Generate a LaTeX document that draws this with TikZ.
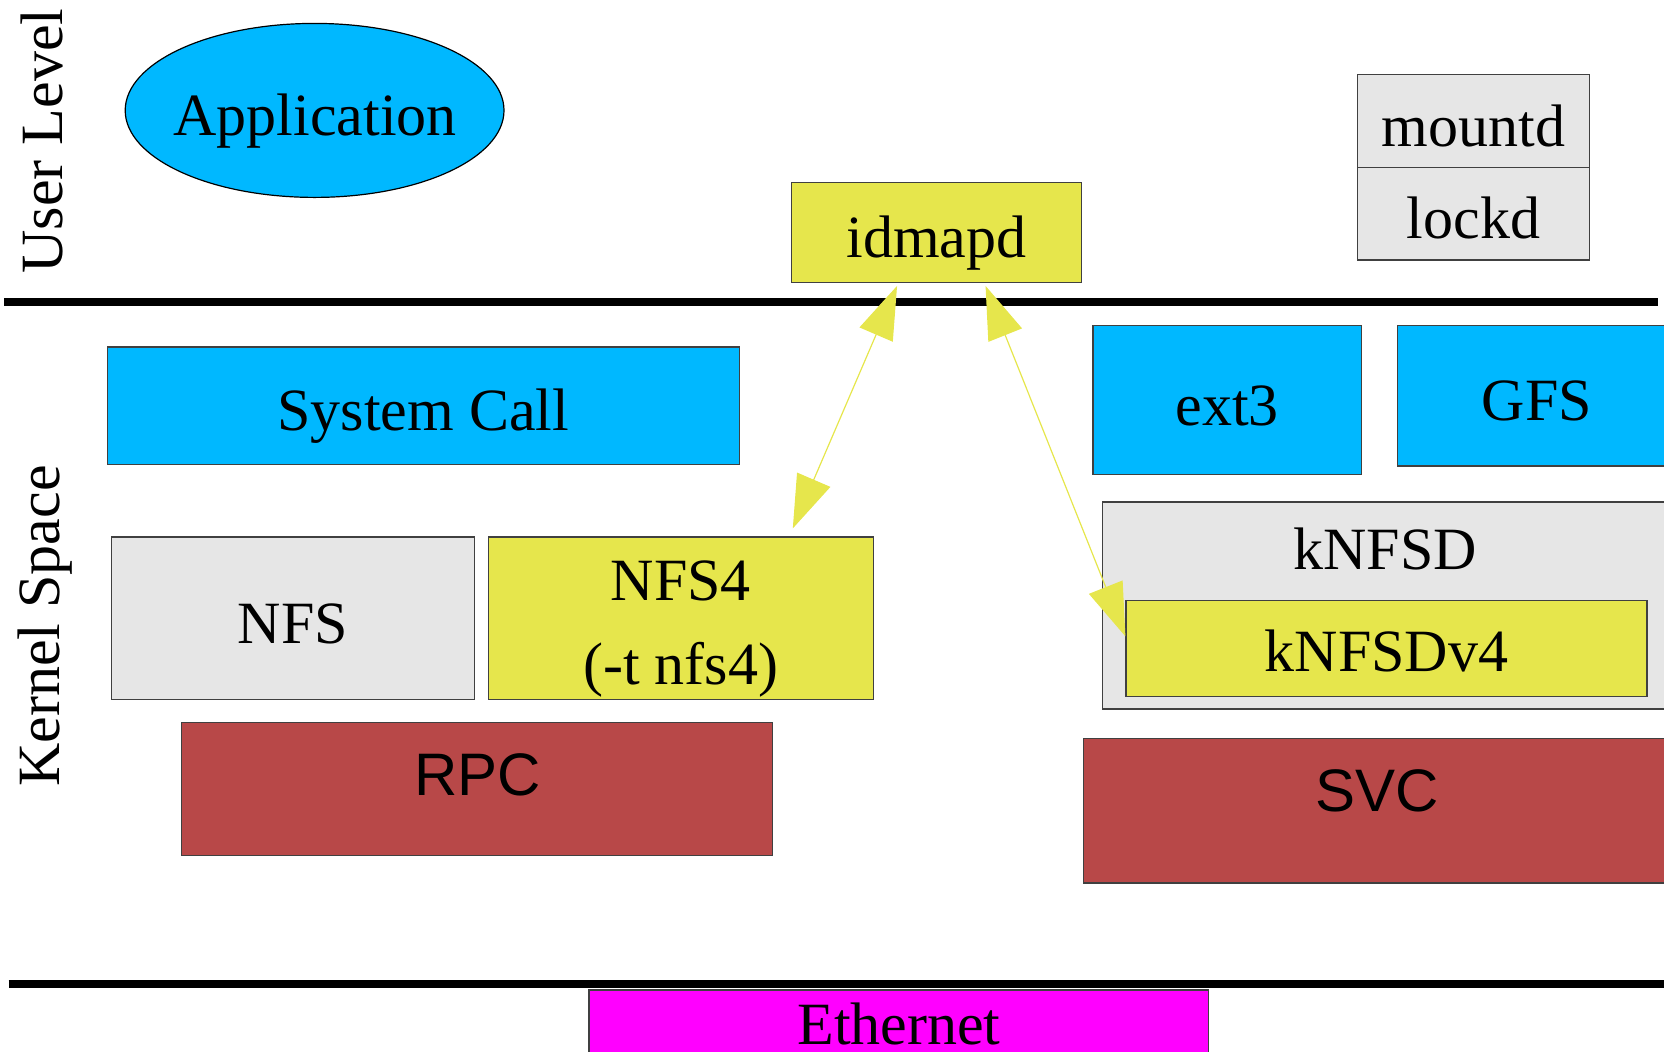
\documentclass[tikz,border=0pt]{standalone}
\usepackage{fontspec}
\setmainfont{Liberation Serif}
\newfontfamily\sansf{Liberation Sans}
\usetikzlibrary{arrows.meta,shapes.geometric}
\definecolor{cyanfill}{RGB}{0,184,255}
\definecolor{grayfill}{RGB}{230,230,230}
\definecolor{yellowfill}{RGB}{230,230,76}
\definecolor{redfill}{RGB}{184,72,72}
\definecolor{magfill}{RGB}{255,0,255}
\begin{document}
\begin{tikzpicture}[x=0.5pt,y=-0.5pt,
  font=\fontsize{30}{36}\selectfont,
  box/.style={rectangle, draw=black!75, line width=0.6pt, inner sep=0pt,
    text height=25pt, text depth=0pt},
  cyanbox/.style={box, fill=cyanfill},
  graybox/.style={box, fill=grayfill},
  yellowbox/.style={box, fill=yellowfill},
  redbox/.style={box, fill=redfill},
  magbox/.style={box, fill=magfill},
  sep/.style={line width=4pt, black},
  txt/.style={inner sep=0pt},
  sanstxt/.style={inner sep=0pt, font=\sansf\fontsize{30}{36}\selectfont},
  conn/.style={draw=yellowfill, line width=0.6pt,
    {Triangle[length=26.5pt,width=18pt]}-{Triangle[length=26.5pt,width=18pt]}}
]
\useasboundingbox (0,0) rectangle (1664,1051);

% separators
\draw[sep] (4,301.5) -- (1658,301.5);
\draw[sep] (8.5,983.7) -- (1664,983.7);

% side labels
\node[txt, rotate=90] (userlevel) at (42,141) {User Level};
\node[txt, rotate=90] (kernelspace) at (45.2,626) {Kernel Space};

% user level
\node[ellipse, draw=black, line width=0.6pt, fill=cyanfill, inner sep=0pt,
      minimum width=189.4pt, minimum height=87pt] (app) at (314.6,110.4) {};
\node[txt] (apptxt) at (315,121) {Application};
\node[yellowbox, minimum width=144.85pt, minimum height=49.9pt] (idmapd) at (936.55,232.4) {idmapd};
\node[graybox, minimum width=116.2pt, minimum height=46.7pt] (mountd) at (1473.5,121) {mountd};
\node[graybox, minimum width=116.2pt, minimum height=46.15pt] (lockd) at (1473.5,213.85) {lockd};

% kernel space, client side
\node[cyanbox, minimum width=316.25pt, minimum height=58.9pt] (syscall) at (423.45,405.9) {System Call};
\node[graybox, minimum width=181.5pt, minimum height=81.15pt] (nfs) at (292.9,618.15) {NFS};
\node[yellowbox, minimum width=192.6pt, minimum height=81.15pt] (nfs4) at (680.8,618.15) {};
\node[txt] (nfs4a) at (680.8,581) {NFS4};
\node[txt] (nfs4b) at (680.8,670) {(-t nfs4)};
\node[redbox, minimum width=295.55pt, minimum height=66.3pt] (rpc) at (477.05,789) {};
\node[sanstxt] (rpctxt) at (477.5,774.7) {RPC};

% kernel space, server side
\node[cyanbox, minimum width=134.25pt, minimum height=74.3pt] (ext3) at (1227.25,400.1) {ext3};
\node[cyanbox, minimum width=139.2pt, minimum height=70.05pt] (gfs) at (1536.8,395.85) {GFS};
\node[graybox, minimum width=282.7pt, minimum height=103.45pt] (knfsd) at (1385.3,605.45) {};
\node[txt] (knfsdtxt) at (1385,548.6) {kNFSD};
\node[yellowbox, minimum width=260.5pt, minimum height=47.75pt, text height=23pt] (knfsdv4) at (1386.5,648.35) {kNFSDv4};
\node[redbox, minimum width=293.75pt, minimum height=72.2pt] (svc) at (1377.25,810.8) {};
\node[sanstxt] (svctxt) at (1377.4,790.6) {SVC};

% ethernet
\node[magbox, minimum width=309.85pt, minimum height=36pt] (eth) at (898.85,1026) {};
\node[txt] (ethtxt) at (899,1024) {Ethernet};

% connectors
\draw[conn] ([xshift=56pt,yshift=4pt]nfs4.north) -- ([xshift=-19.75pt,yshift=-1.5pt]idmapd.south);
\draw[conn] ([xshift=24.5pt,yshift=-1.5pt]idmapd.south) -- ([yshift=6pt]knfsdv4.west);
\end{tikzpicture}
\end{document}
